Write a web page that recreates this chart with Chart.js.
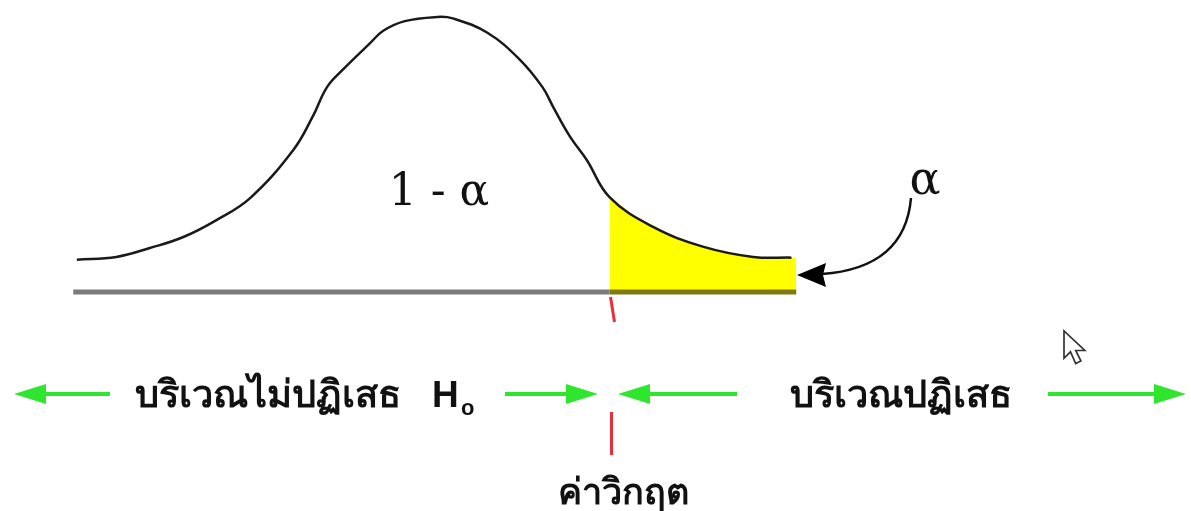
<!DOCTYPE html>
<html>
<head>
<meta charset="utf-8">
<script src="https://cdn.jsdelivr.net/npm/chart.js@4/dist/chart.umd.min.js"></script>
<style>
html,body{margin:0;padding:0;background:#fff;}
#wrap{width:1191px;height:511px;position:relative;}
</style>
</head>
<body>
<div id="wrap"><canvas id="c"></canvas></div>
<script>
// z-values (standard units) along the drawn curve
const zValues = [-3.00,-2.67,-2.39,-2.11,-1.83,-1.55,-1.19,-1.03,-0.91,-0.78,-0.55,-0.44,-0.26,0.01,0.14,0.43,0.70,0.89,0.98,1.12,1.26,1.45,1.81,2.23,2.65,2.97];
// density
const density = [0.047,0.051,0.064,0.080,0.105,0.137,0.207,0.255,0.298,0.323,0.362,0.380,0.394,0.400,0.398,0.377,0.338,0.298,0.269,0.226,0.192,0.138,0.095,0.066,0.051,0.050];
const criticalZ = [1.45];
const baselineZ = [-3.03, 3.01];
const alphaLabel = "α";
const centerLabel = "1 - α";
const acceptLabel = "บริเวณไม่ปฏิเสธ";
const rejectLabel = "บริเวณปฏิเสธ";
const criticalLabel = "ค่าวิกฤต";

const curve = zValues.map((z,i)=>({x:z,y:density[i]}));
const tail = curve.filter(p=>p.x>=criticalZ[0]);
tail.push({x:baselineZ[1], y:density[density.length-1]});

function arrow(ctx, x1, y, x2, color){
  const dir = Math.sign(x2-x1);
  ctx.save();
  ctx.strokeStyle=color; ctx.fillStyle=color; ctx.lineWidth=4;
  ctx.beginPath(); ctx.moveTo(x1,y); ctx.lineTo(x2-dir*20,y); ctx.stroke();
  ctx.beginPath(); ctx.moveTo(x2,y); ctx.lineTo(x2-dir*32,y-10); ctx.lineTo(x2-dir*32,y+10); ctx.closePath(); ctx.fill();
  ctx.restore();
}

const annot = {
  id:'annot',
  afterDatasetsDraw(chart){
    const ctx = chart.ctx;
    const xs = chart.scales.x, ys = chart.scales.y;
    const cx = xs.getPixelForValue(criticalZ[0]);
    const y0 = ys.getPixelForValue(0);
    ctx.save();
    // red tick under baseline
    ctx.strokeStyle='#e8303a'; ctx.lineWidth=3;
    ctx.beginPath(); ctx.moveTo(cx+1, y0+5); ctx.lineTo(cx+5, y0+30); ctx.stroke();
    ctx.beginPath(); ctx.moveTo(cx+2, 412); ctx.lineTo(cx+2, 455); ctx.stroke();
    // green arrows
    const g='#2ee62e';
    arrow(ctx, 110, 394, 14, g);
    arrow(ctx, 505, 394, 598, g);
    arrow(ctx, 737, 394, 618, g);
    arrow(ctx, 1048, 394, 1186, g);
    // texts
    ctx.fillStyle='#111';
    ctx.textBaseline='alphabetic';
    ctx.textAlign='center';
    ctx.font='bold 38px "Noto Sans", "DejaVu Sans", sans-serif';
    ctx.fillText(acceptLabel, 268, 407);
    ctx.fillText(rejectLabel, 901, 407);
    ctx.textAlign='left';
    ctx.font='bold 37px "Liberation Sans", Arial, sans-serif';
    ctx.fillText('H', 432, 407);
    ctx.font='bold 22px "Liberation Sans", Arial, sans-serif';
    ctx.fillText('o', 461, 415);
    ctx.textAlign='center';
    ctx.font='bold 36px "Noto Sans", "DejaVu Sans", sans-serif';
    ctx.fillText(criticalLabel, 623, 504);
    ctx.font='44px "DejaVu Serif", serif';
    ctx.fillText(centerLabel, 439, 205);
    ctx.font='46px "DejaVu Serif", serif';
    ctx.fillText(alphaLabel, 925, 194);
    // curved arrow from alpha
    ctx.strokeStyle='#111'; ctx.lineWidth=2.5;
    ctx.beginPath(); ctx.moveTo(911,198); ctx.quadraticCurveTo(905,268,822,274); ctx.stroke();
    ctx.fillStyle='#000';
    ctx.beginPath(); ctx.moveTo(797,275); ctx.lineTo(826,263); ctx.lineTo(823,275); ctx.lineTo(826,287); ctx.closePath(); ctx.fill();
    // mouse cursor
    ctx.save();
    ctx.translate(1064,331);
    ctx.scale(1.3,1.3);
    ctx.beginPath();
    ctx.moveTo(0,0); ctx.lineTo(0,21); ctx.lineTo(5,16); ctx.lineTo(9,25); ctx.lineTo(13,23); ctx.lineTo(9,15); ctx.lineTo(16,15); ctx.closePath();
    ctx.fillStyle='#fff'; ctx.fill();
    ctx.strokeStyle='#333'; ctx.lineWidth=1.3; ctx.stroke();
    ctx.restore();
    ctx.restore();
  }
};

new Chart(document.getElementById('c'), {
  type:'scatter',
  data:{
    datasets:[
      {data:curve, showLine:true, borderColor:'#1a1a1a', borderWidth:2.5, pointRadius:0, tension:0.4, fill:false},
      {data:[{x:baselineZ[0],y:0},{x:criticalZ[0],y:0}], showLine:true, borderColor:'#7b7b7b', borderWidth:5, pointRadius:0, fill:false},
      {data:[{x:criticalZ[0],y:0},{x:baselineZ[1],y:0}], showLine:true, borderColor:'#7d7a12', borderWidth:5, pointRadius:0, fill:false},
      {data:tail, showLine:true, borderWidth:0, borderColor:'rgba(0,0,0,0)', backgroundColor:'#ffff00', pointRadius:0, tension:0.4, fill:'origin'}
    ]
  },
  options:{
    responsive:true, maintainAspectRatio:false, animation:false,
    layout:{padding:0},
    plugins:{legend:{display:false}, tooltip:{enabled:false}},
    scales:{
      x:{type:'linear', display:false, min:-3.642, max:6.308},
      y:{type:'linear', display:false, min:-0.3185, max:0.4247}
    }
  },
  plugins:[annot]
});
</script>
</body>
</html>
